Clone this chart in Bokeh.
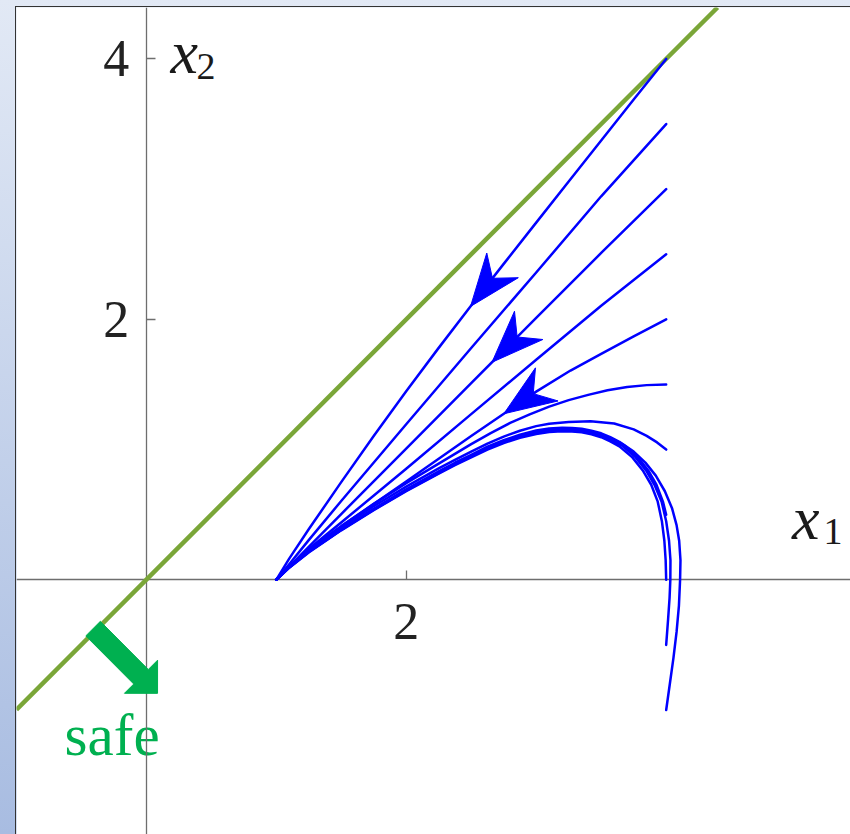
import numpy as np
from bokeh.plotting import figure
from bokeh.models import Label, FixedTicker
from bokeh.embed import file_html
from bokeh.resources import INLINE
from bokeh.core.properties import value

# ---------------------------------------------------------------- data
x_ticks = [2]
y_ticks = [2, 4]

# boundary of the safe set: x2 = slope * x1 + intercept
boundary_slope = 1.0
boundary_intercept = 0.0

# closed-loop trajectories, all starting at x1 = 4 and ending at (1, 0)
traj_a_x1 = [4.0, 3.75, 3.5, 3.25, 3.0, 2.75, 2.5, 2.25, 2.0, 1.75, 1.5, 1.25, 1.1, 1.0]
traj_a_x2 = [4.0, 3.688, 3.374, 3.059, 2.743, 2.426, 2.106, 1.781, 1.448, 1.105, 0.75, 0.388, 0.163, 0.0]

traj_b_x1 = [4.0, 3.5, 3.0, 2.5, 2.0, 1.5, 1.25, 1.1, 1.0]
traj_b_x2 = [3.5, 2.945, 2.36, 1.78, 1.195, 0.605, 0.305, 0.12, 0.0]

traj_c_x1 = [4.0, 3.5, 3.0, 2.5, 2.0, 1.5, 1.25, 1.0]
traj_c_x2 = [3.0, 2.51, 2.012, 1.51, 1.008, 0.505, 0.252, 0.0]

traj_d_x1 = [4.0, 3.5, 3.0, 2.5, 2.0, 1.5, 1.25, 1.1, 1.0]
traj_d_x2 = [2.5, 2.105, 1.69, 1.272, 0.853, 0.44, 0.236, 0.1, 0.0]

traj_e_x1 = [4.0, 3.75, 3.5, 3.264, 3.0, 2.751, 2.5, 2.25, 2.0, 1.75, 1.5, 1.25, 1.1, 1.0]
traj_e_x2 = [2.0, 1.87, 1.735, 1.607, 1.445, 1.275, 1.105, 0.93, 0.755, 0.582, 0.412, 0.233, 0.099, 0.0]

traj_f_x1 = [4.0, 3.85, 3.7, 3.549, 3.4, 3.25, 3.1, 2.95, 2.8, 2.65, 2.5, 2.375, 2.25,
             2.0, 1.75, 1.5, 1.25, 1.1, 1.0]
traj_f_x2 = [1.5, 1.495, 1.48, 1.455, 1.42, 1.38, 1.33, 1.27, 1.205, 1.127, 1.042, 0.967, 0.892,
             0.742, 0.583, 0.41, 0.229, 0.098, 0.0]

traj_g_x1 = [4.0, 3.93, 3.85, 3.75, 3.6, 3.418, 3.25, 3.1, 3.0, 2.875, 2.75, 2.625, 2.5,
             2.375, 2.25, 2.0, 1.75, 1.5, 1.25, 1.1, 1.0]
traj_g_x2 = [1.0, 1.055, 1.105, 1.155, 1.2, 1.218, 1.212, 1.198, 1.18, 1.145, 1.1, 1.046, 0.985,
             0.921, 0.855, 0.715, 0.565, 0.404, 0.226, 0.098, 0.0]

traj_h_x1 = [4.0, 3.975, 3.925, 3.862, 3.782, 3.675, 3.59, 3.5, 3.425, 3.35, 3.275, 3.2, 3.1,
             3.0, 2.875, 2.75, 2.625, 2.5, 2.375, 2.25, 2.0, 1.75, 1.5, 1.25, 1.1, 1.0]
traj_h_x2 = [0.5, 0.6, 0.73, 0.84, 0.94, 1.035, 1.08, 1.113, 1.135, 1.15, 1.156, 1.157, 1.152,
             1.136, 1.106, 1.064, 1.014, 0.952, 0.892, 0.825, 0.688, 0.541, 0.384, 0.216, 0.095, 0.0]

traj_i_x1 = [4.0, 3.996, 3.986, 3.967, 3.935, 3.885, 3.82, 3.74, 3.64, 3.57, 3.5, 3.425, 3.35,
             3.275, 3.2, 3.1, 3.0, 2.875, 2.75, 2.625, 2.5, 2.375, 2.25, 2.0, 1.75, 1.5,
             1.25, 1.1, 1.0]
traj_i_x2 = [0.0, 0.15, 0.3, 0.45, 0.6, 0.73, 0.84, 0.94, 1.025, 1.063, 1.095, 1.117, 1.133,
             1.139, 1.14, 1.135, 1.12, 1.091, 1.05, 1.0, 0.94, 0.88, 0.815, 0.68, 0.535, 0.38,
             0.21, 0.093, 0.0]

traj_j_x1 = [4.0, 4.015, 4.026, 4.032, 4.033, 4.022, 4.0, 3.965, 3.91, 3.845, 3.765, 3.66,
             3.58, 3.5, 3.425, 3.35, 3.275, 3.2, 3.1, 3.0, 2.875, 2.75, 2.625, 2.5, 2.375,
             2.25, 2.0, 1.75, 1.5, 1.25, 1.1, 1.0]
traj_j_x2 = [-0.5, -0.3, -0.14, 0.0, 0.15, 0.3, 0.45, 0.6, 0.73, 0.84, 0.94, 1.03,
             1.072, 1.105, 1.126, 1.142, 1.148, 1.149, 1.144, 1.128, 1.098, 1.057, 1.008, 0.946, 0.886,
             0.82, 0.684, 0.538, 0.382, 0.213, 0.094, 0.0]

traj_k_x1 = [4.0, 4.028, 4.056, 4.08, 4.098, 4.107, 4.11, 4.1, 4.08, 4.045, 3.99, 3.92, 3.84,
             3.75, 3.64, 3.57, 3.5, 3.425, 3.35, 3.275, 3.2, 3.1, 3.0, 2.875, 2.75, 2.625,
             2.5, 2.375, 2.25, 2.0, 1.75, 1.5, 1.25, 1.1, 1.0]
traj_k_x2 = [-1.0, -0.8, -0.6, -0.4, -0.2, 0.0, 0.15, 0.3, 0.42, 0.55, 0.68, 0.8, 0.9,
             0.985, 1.06, 1.095, 1.125, 1.145, 1.16, 1.166, 1.168, 1.162, 1.146, 1.115, 1.072, 1.022,
             0.96, 0.899, 0.832, 0.694, 0.546, 0.388, 0.219, 0.096, 0.0]

traj_x1 = [traj_a_x1, traj_b_x1, traj_c_x1, traj_d_x1, traj_e_x1, traj_f_x1,
           traj_g_x1, traj_h_x1, traj_i_x1, traj_j_x1, traj_k_x1]
traj_x2 = [traj_a_x2, traj_b_x2, traj_c_x2, traj_d_x2, traj_e_x2, traj_f_x2,
           traj_g_x2, traj_h_x2, traj_i_x2, traj_j_x2, traj_k_x2]

# direction arrows: which trajectory, and x1 of the arrow tip
arrow_traj = [0, 2, 4]
arrow_tip_x1 = [2.495, 2.66, 2.751]

# "safe" direction marker, normal to the boundary
safe_tail = (-0.409, -0.375)
safe_tip = (0.087, -0.872)

# ---------------------------------------------------------------- figure
X_RANGE = (-0.998, 5.418)
Y_RANGE = (-1.956, 4.395)
SERIF = "Liberation Serif"

p = figure(width=850, height=834, x_range=X_RANGE, y_range=Y_RANGE,
           output_backend="svg", toolbar_location=None,
           min_border_left=16, min_border_top=7,
           min_border_right=0, min_border_bottom=0,
           background_fill_color="white", border_fill_color=None,
           outline_line_color=None)
p.styles = {
    "background": (
        "linear-gradient(#333333, #333333) 15px 6px / 835px 1px no-repeat, "
        "linear-gradient(#333333, #333333) 15px 6px / 1px 828px no-repeat, "
        "linear-gradient(180deg, #e2e9f5 0%, #a8bce1 100%)"
    )
}
p.grid.visible = False

AXIS_GREY = "#6e6e6e"
for ax in (p.xaxis, p.yaxis):
    ax.fixed_location = 0
    ax.level = "underlay"
    ax.axis_line_color = AXIS_GREY
    ax.axis_line_width = 1.3
    ax.major_tick_line_color = AXIS_GREY
    ax.major_tick_line_width = 1.3
    ax.major_tick_in = 9
    ax.major_tick_out = 0
    ax.minor_tick_line_color = None
    ax.major_label_text_font = SERIF
    ax.major_label_text_font_size = "52px"
    ax.major_label_text_color = "#222222"
p.xaxis.ticker = FixedTicker(ticks=x_ticks)
p.yaxis.ticker = FixedTicker(ticks=y_ticks)
p.xaxis.major_label_standoff = 24
p.yaxis.major_label_standoff = 17

# "safe" label sits under the axes
p.text(x=[-0.628], y=[-1.19], text=["safe"], text_font=value(SERIF),
       text_font_size="59px", text_color="#00b050", text_align="left",
       text_baseline="alphabetic", level="image")

# safe-set boundary across the whole visible range
bx0 = X_RANGE[0]
bx1 = (Y_RANGE[1] - boundary_intercept) / boundary_slope
p.line([bx0, bx1], [boundary_slope * bx0 + boundary_intercept,
                    boundary_slope * bx1 + boundary_intercept],
       line_color="#7aa638", line_width=4.5)

# trajectories
p.multi_line(traj_x1, traj_x2, line_color="#0000ff", line_width=2.5,
             line_join="round", line_cap="round")

# arrowheads along the flow (pointing towards the equilibrium)
HEAD_LEN, HEAD_HALF, HEAD_NOTCH = 0.40, 0.154, 0.274
hx, hy = [], []
for k, tx in zip(arrow_traj, arrow_tip_x1):
    xs, ys = traj_x1[k][::-1], traj_x2[k][::-1]
    ty = np.interp(tx, xs, ys)
    d = np.array([0.15, np.interp(tx + 0.15, xs, ys) - ty])
    u = d / np.hypot(*d)
    n = np.array([-u[1], u[0]])
    tip = np.array([tx, ty])
    pts = [tip,
           tip + HEAD_LEN * u + HEAD_HALF * n,
           tip + HEAD_NOTCH * u,
           tip + HEAD_LEN * u - HEAD_HALF * n]
    hx.append([q[0] for q in pts])
    hy.append([q[1] for q in pts])
p.patches(hx, hy, fill_color="#0000ff", line_color="#0000ff", line_width=1)

# block arrow pointing into the safe set
t = np.array(safe_tail)
h = np.array(safe_tip)
u = (h - t) / np.hypot(*(h - t))
n = np.array([-u[1], u[0]])
SHAFT_HALF, BLOCK_HEAD_HALF, BLOCK_HEAD_LEN = 0.079, 0.18, 0.18
base = h - BLOCK_HEAD_LEN * u
poly = [t + SHAFT_HALF * n, base + SHAFT_HALF * n, base + BLOCK_HEAD_HALF * n, h,
        base - BLOCK_HEAD_HALF * n, base - SHAFT_HALF * n, t - SHAFT_HALF * n]
p.patch([q[0] for q in poly], [q[1] for q in poly], fill_color="#00b050",
        line_color="#00b050", line_width=1)

# axis names x1, x2 (italic variable with upright subscript)
for (vx, vy, sx, sy, sub) in [(4.968, 0.475, 5.21, 0.37, "1"),
                              (0.187, 4.054, 0.387, 3.94, "2")]:
    p.add_layout(Label(x=vx, y=vy, text="x", text_font=SERIF,
                       text_font_style="italic", text_font_size="62px",
                       text_color="#1a1a1a", text_baseline="alphabetic"))
    p.add_layout(Label(x=sx, y=sy, text=sub, text_font=SERIF,
                       text_font_size="38px", text_color="#1a1a1a",
                       text_baseline="alphabetic"))

open("out.html", "w").write(file_html(p, INLINE))
